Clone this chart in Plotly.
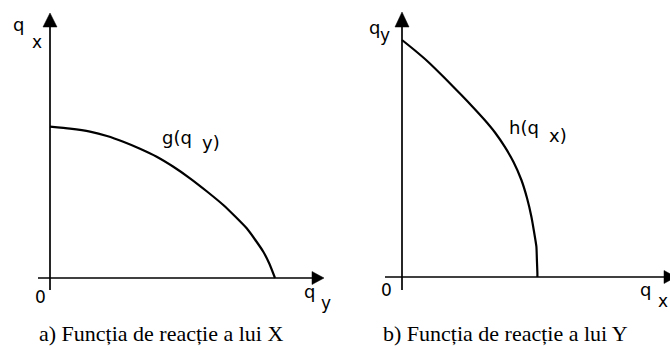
import plotly.graph_objects as go

# ---- data (arbitrary units, origin at 0) ----
g_qy = [0, 2, 4, 5.7, 7.33, 9, 10.67, 12.3, 14, 15.7, 17.33, 18.5, 19.67, 20.5, 21.33, 21.95, 22.5]
g_qx = [15.13, 14.93, 14.63, 14.2, 13.63, 12.93, 12.13, 11.15, 9.97, 8.65, 7.3, 6.17, 4.97, 3.85, 2.63, 1.4, 0]

h_qx = [0, 1.3, 2.6, 4.27, 5.94, 7.1, 8.27, 9.3, 10.27, 11.15, 11.94, 12.5, 12.94, 13.2, 13.44, 13.49, 13.54, 13.54]
h_qy = [23.7, 22.65, 21.53, 19.9, 18.2, 16.98, 15.7, 14.45, 13.03, 11.5, 9.7, 7.9, 6.03, 4.55, 3.03, 1.7, 0.37, 0]

caption_a = "a) Funcția de reacție a lui X"
caption_b = "b) Funcția de reacție a lui Y"

INK = "black"
SANS = "DejaVu Sans"
SERIF = "Liberation Serif"

fig = go.Figure()


def axis_arrows(xa, ya, x0, x1, y0, y1, xtip, ytip):
    fig.add_trace(go.Scatter(x=[x0, x1], y=[0, 0], mode="lines",
                             line=dict(color=INK, width=1.7),
                             xaxis=xa, yaxis=ya, hoverinfo="skip"))
    fig.add_trace(go.Scatter(x=[0, 0], y=[y0, y1], mode="lines",
                             line=dict(color=INK, width=1.7),
                             xaxis=xa, yaxis=ya, hoverinfo="skip"))
    fig.add_trace(go.Scatter(x=[x1, x1, xtip, x1], y=[-0.65, 0.65, 0, -0.65],
                             mode="lines", fill="toself", fillcolor=INK,
                             line=dict(color=INK, width=0.5),
                             xaxis=xa, yaxis=ya, hoverinfo="skip"))
    fig.add_trace(go.Scatter(x=[-0.7, 0.7, 0, -0.7], y=[y1, y1, ytip, y1],
                             mode="lines", fill="toself", fillcolor=INK,
                             line=dict(color=INK, width=0.5),
                             xaxis=xa, yaxis=ya, hoverinfo="skip"))


axis_arrows("x", "y", -1.2, 26.2, -1.2, 25.1, 27.4, 26.5)
axis_arrows("x2", "y2", -1.7, 26.2, -1.3, 25.0, 27.4, 26.5)

fig.add_trace(go.Scatter(x=g_qy, y=g_qx, mode="lines",
                         line=dict(color=INK, width=2.2, shape="spline", smoothing=0.5),
                         xaxis="x", yaxis="y", hoverinfo="skip"))
fig.add_trace(go.Scatter(x=h_qx, y=h_qy, mode="lines",
                         line=dict(color=INK, width=2.2, shape="spline", smoothing=0.5),
                         xaxis="x2", yaxis="y2", hoverinfo="skip"))


def label(text, x, y, panel, size=18, family=SANS, xanchor="center"):
    fig.add_annotation(text=text, x=x, y=y,
                       xref="x" if panel == 1 else "x2",
                       yref="y" if panel == 1 else "y2",
                       showarrow=False, xanchor=xanchor, yanchor="middle",
                       font=dict(family=family, size=size, color=INK))


# left panel labels
label("q", -3.2, 25.4, 1)
label("x", -1.3, 23.6, 1, size=17)
label("0", -1.0, -1.9, 1, size=17)
label("q", 25.9, -1.3, 1)
label("y", 27.6, -2.5, 1, size=17)
label("g(q", 11.0, 14.1, 1, xanchor="left")
label("y)", 15.0, 13.6, 1, xanchor="left")
label(caption_a, 11.1, -5.5, 1, size=22, family=SERIF)

# right panel labels
label("q", -2.8, 25.0, 2)
label("y", -1.7, 24.2, 2, size=17)
label("0", -1.6, -1.3, 2, size=17)
label("q", 24.3, -1.2, 2)
label("x", 26.8, -2.4, 2, size=17, xanchor="right")
label("h(q", 10.5, 15.0, 2, xanchor="left")
label("x)", 14.5, 14.2, 2, xanchor="left")
label(caption_b, 10.3, -5.6, 2, size=22, family=SERIF)

hidden = dict(visible=False, showgrid=False, zeroline=False, fixedrange=True)
fig.update_layout(
    width=670, height=349,
    margin=dict(l=0, r=0, t=0, b=0),
    paper_bgcolor="white", plot_bgcolor="white",
    showlegend=False,
    xaxis=dict(domain=[0, 0.5], range=[-5, 28.5], **hidden),
    yaxis=dict(domain=[0, 1], range=[-7.1, 27.8], **hidden),
    xaxis2=dict(domain=[0.5, 1], range=[-6.7, 26.8], anchor="y2", **hidden),
    yaxis2=dict(domain=[0, 1], range=[-7.2, 27.7], anchor="x2", **hidden),
)

fig.write_html("out.html", config={"displayModeBar": False},
               post_script="document.body.style.margin='0';document.body.style.overflow='hidden';")
